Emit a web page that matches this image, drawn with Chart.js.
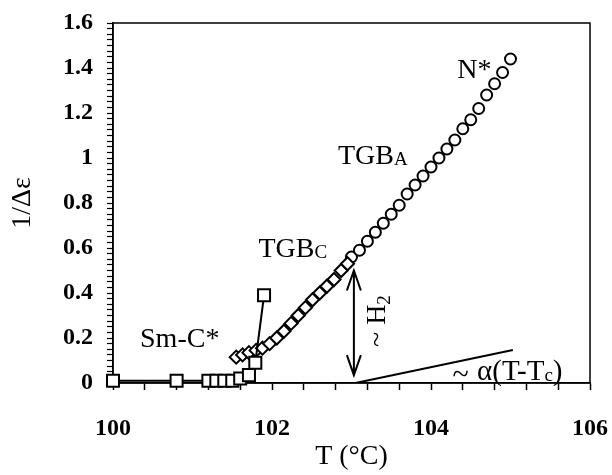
<!DOCTYPE html>
<html>
<head>
<meta charset="utf-8">
<script src="https://cdn.jsdelivr.net/npm/chart.js@4.4.0/dist/chart.umd.min.js"></script>
<style>
html, body { margin: 0; padding: 0; background: #fff; }
</style>
</head>
<body>
<canvas id="graphCanvas" width="612" height="475"></canvas>
<script>
// Sm-C* phase (squares, joined by a line)
var smcT = [100.0, 100.8, 101.2, 101.3, 101.4, 101.5, 101.6, 101.71, 101.79, 101.9];
var smcV = [0.01, 0.01, 0.01, 0.01, 0.01, 0.01, 0.02, 0.035, 0.09, 0.39];

// TGBc phase (diamonds)
var tgbcT = [101.55, 101.63, 101.71, 101.80, 101.88, 101.97, 102.06, 102.15, 102.24, 102.33, 102.42, 102.51, 102.60, 102.69, 102.78, 102.87, 102.95];
var tgbcV = [0.115, 0.125, 0.135, 0.145, 0.155, 0.175, 0.20, 0.23, 0.265, 0.30, 0.335, 0.37, 0.40, 0.43, 0.46, 0.50, 0.53];

// TGBa / N* (circles)
var tgbaT = [103.0, 103.1, 103.2, 103.3, 103.4, 103.5, 103.6, 103.7, 103.8, 103.9, 104.0, 104.1, 104.2, 104.3, 104.4, 104.5, 104.6, 104.7, 104.8, 104.9, 105.0];
var tgbaV = [0.56, 0.59, 0.63, 0.67, 0.71, 0.75, 0.79, 0.84, 0.88, 0.92, 0.96, 1.00, 1.04, 1.08, 1.13, 1.17, 1.22, 1.28, 1.33, 1.38, 1.44];

// ~alpha(T-Tc) line
var alphaT = [103.05, 105.03];
var alphaV = [0, 0.147];

// H2 arrow (T, from, to)
var arrowT = 103.03;
var arrowV = [0.50, 0.035];

var xTickLabels = [100, 102, 104, 106];
var xMinorStep = 0.4;
var yTickLabels = [0, 0.2, 0.4, 0.6, 0.8, 1, 1.2, 1.4, 1.6];
var yMinorStep = 0.025;

var serif = "'Liberation Serif', 'Times New Roman', serif";

function pts(xs, ys) {
    var out = [];
    for (var i = 0; i < xs.length; i++) out.push({x: xs[i], y: ys[i]});
    return out;
}

function isLabel(list, v) {
    for (var i = 0; i < list.length; i++) {
        if (Math.abs(list[i] - v) < 1e-6) return true;
    }
    return false;
}

var decorPlugin = {
    id: 'decor',
    beforeDatasetsDraw: function (chart) {
        var ctx = chart.ctx;
        var a = chart.chartArea;
        ctx.save();
        // frame
        ctx.strokeStyle = '#000';
        ctx.lineWidth = 1.5;
        ctx.strokeRect(a.left, a.top, a.right - a.left, a.bottom - a.top);
        ctx.restore();
    },
    afterDraw: function (chart) {
        var ctx = chart.ctx;
        var xs = chart.scales.x, ys = chart.scales.y;
        ctx.save();
        ctx.strokeStyle = '#000';

        // double arrow
        var ax = xs.getPixelForValue(arrowT);
        var y1 = ys.getPixelForValue(arrowV[0]);
        var y2 = ys.getPixelForValue(arrowV[1]);
        ctx.lineWidth = 2;
        ctx.beginPath();
        ctx.moveTo(ax, y1); ctx.lineTo(ax, y2);
        ctx.moveTo(ax - 7, y1 + 20); ctx.lineTo(ax, y1); ctx.lineTo(ax + 7, y1 + 20);
        ctx.moveTo(ax - 7, y2 - 20); ctx.lineTo(ax, y2); ctx.lineTo(ax + 7, y2 - 20);
        ctx.stroke();

        ctx.fillStyle = '#000';
        ctx.textBaseline = 'alphabetic';
        ctx.textAlign = 'left';

        function txt(s, T, v, size) {
            ctx.font = size + 'px ' + serif;
            var x = xs.getPixelForValue(T), y = ys.getPixelForValue(v);
            ctx.fillText(s, x, y);
            return x + ctx.measureText(s).width;
        }
        // Sm-C*
        txt('Sm-C*', 100.34, 0.16, 28);
        // TGBc
        var e = txt('TGB', 101.83, 0.56, 28);
        ctx.font = '19px ' + serif;
        ctx.fillText('C', e, ys.getPixelForValue(0.555));
        // TGBa
        e = txt('TGB', 102.83, 0.975, 28);
        ctx.font = '19px ' + serif;
        ctx.fillText('A', e, ys.getPixelForValue(0.97));
        // N*
        txt('N*', 104.33, 1.355, 28);

        // ~H2 rotated
        ctx.save();
        ctx.translate(xs.getPixelForValue(103.37) + 4, ys.getPixelForValue(0.16));
        ctx.rotate(-Math.PI / 2);
        ctx.font = '28px ' + serif;
        ctx.fillText('~ H', 0, 0);
        var w = ctx.measureText('~ H').width;
        ctx.font = '19px ' + serif;
        ctx.fillText('2', w, 5);
        ctx.restore();

        // ~ alpha(T-Tc)
        e = txt('~', 104.27, -0.005, 30);
        e = txt('\u03b1(T-T', 104.58, 0.015, 29);
        ctx.font = '19px ' + serif;
        ctx.fillText('c', e, ys.getPixelForValue(0.01));
        var e2 = e + ctx.measureText('c').width;
        ctx.font = '29px ' + serif;
        ctx.fillText(')', e2, ys.getPixelForValue(0.015));
        ctx.restore();
    }
};

var chartdata = {
    datasets: [
        {
            label: 'Sm-C*',
            data: pts(smcT, smcV),
            showLine: true,
            clip: false,
            borderColor: '#000',
            borderWidth: 2,
            pointStyle: 'rect',
            pointRadius: 8.5,
            pointBackgroundColor: '#fff',
            pointBorderColor: '#000',
            pointBorderWidth: 2
        },
        {
            label: 'TGBc',
            data: pts(tgbcT, tgbcV),
            showLine: false,
            clip: false,
            pointStyle: 'rectRot',
            pointRadius: 6.5,
            pointBackgroundColor: '#fff',
            pointBorderColor: '#000',
            pointBorderWidth: 2
        },
        {
            label: 'TGBa',
            data: pts(tgbaT, tgbaV),
            showLine: false,
            clip: false,
            pointStyle: 'circle',
            pointRadius: 5.5,
            pointBackgroundColor: '#fff',
            pointBorderColor: '#000',
            pointBorderWidth: 2
        },
        {
            label: 'alpha',
            data: pts(alphaT, alphaV),
            showLine: true,
            borderColor: '#000',
            borderWidth: 2,
            pointRadius: 0
        }
    ]
};

var graphTarget = document.getElementById('graphCanvas');

var barGraph = new Chart(graphTarget, {
    type: 'scatter',
    data: chartdata,
    plugins: [decorPlugin],
    options: {
        responsive: false,
        animation: false,
        layout: { padding: { top: 23, right: 22, left: 0, bottom: 0 } },
        plugins: { legend: { display: false }, tooltip: { enabled: false } },
        scales: {
            x: {
                type: 'linear',
                min: 100,
                max: 106,
                afterFit: function (s) {
                    s.height = 92;
                    s.paddingLeft = 0;
                    s.paddingRight = 0;
                },
                afterBuildTicks: function (s) {
                    var t = [];
                    for (var i = 0; i <= 15; i++) t.push({value: Math.round((100 + i * xMinorStep) * 10) / 10});
                    s.ticks = t;
                },
                grid: { drawOnChartArea: false, drawTicks: true, tickLength: 7, tickWidth: 1.5, color: '#000' },
                border: { color: '#000', width: 1.5 },
                ticks: {
                    autoSkip: false,
                    maxRotation: 0,
                    padding: 24,
                    color: '#000',
                    font: { family: serif, size: 24, weight: 'bold' },
                    callback: function (v) { return isLabel(xTickLabels, v) ? String(v) : ''; }
                },
                title: {
                    display: true,
                    text: 'T (\u00b0C)',
                    color: '#000',
                    font: { family: serif, size: 28 },
                    padding: { top: 0, bottom: 2 }
                }
            },
            y: {
                type: 'linear',
                min: 0,
                max: 1.6,
                afterFit: function (s) {
                    s.width = 113;
                    s.paddingTop = 0;
                    s.paddingBottom = 0;
                },
                afterBuildTicks: function (s) {
                    var t = [];
                    for (var i = 0; i <= 64; i++) t.push({value: Math.round(i * yMinorStep * 1000) / 1000});
                    s.ticks = t;
                },
                grid: { drawOnChartArea: false, drawTicks: true, tickLength: 6, tickWidth: 1.2, color: '#000' },
                border: { color: '#000', width: 1.5 },
                ticks: {
                    autoSkip: false,
                    padding: 14,
                    color: '#000',
                    font: { family: serif, size: 24, weight: 'bold' },
                    callback: function (v) { return isLabel(yTickLabels, v) ? String(v) : ''; }
                },
                title: {
                    display: true,
                    text: '1/\u0394\u03b5',
                    color: '#000',
                    font: { family: serif, size: 28 },
                    padding: { top: 6, bottom: 0 }
                }
            }
        }
    }
});
</script>
</body>
</html>
